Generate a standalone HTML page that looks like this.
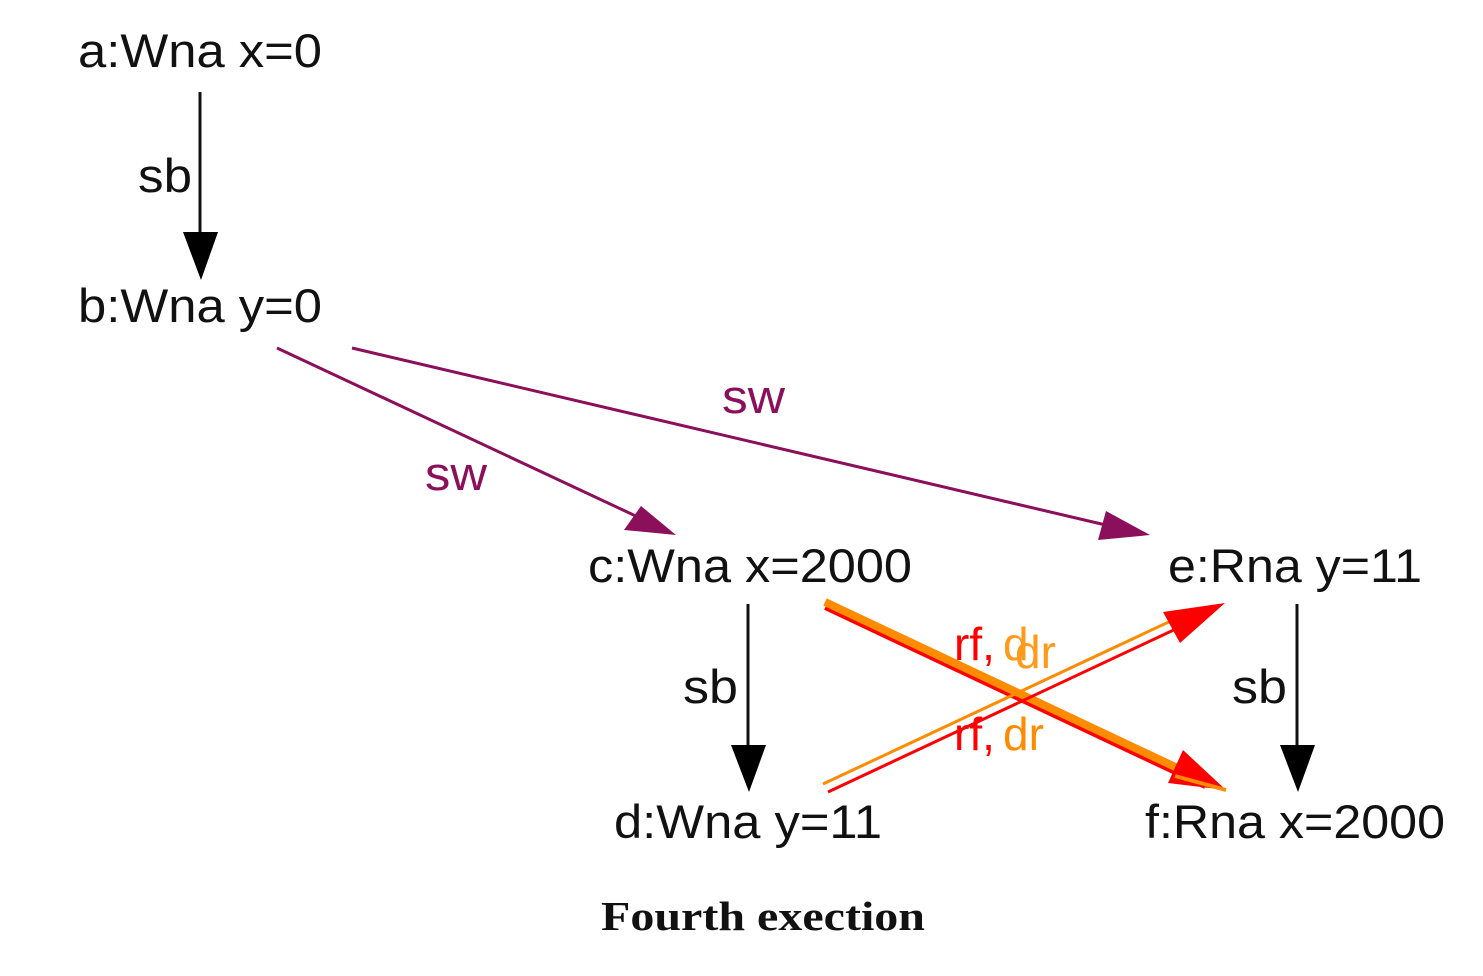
<!DOCTYPE html>
<html><head><meta charset="utf-8"><style>
html,body{margin:0;padding:0;background:#fff;}
svg{display:block;}
.t{font-family:"Liberation Sans",sans-serif;font-size:47px;fill:#111;}
.cap{font-family:"Liberation Serif",serif;font-weight:bold;font-size:41px;fill:#111;}
</style></head><body>
<svg width="1483" height="976" viewBox="0 0 1483 976" xmlns="http://www.w3.org/2000/svg">
<text class="t" x="78" y="67" textLength="244" lengthAdjust="spacingAndGlyphs">a:Wna x=0</text>
<text class="t" x="78" y="322" textLength="244" lengthAdjust="spacingAndGlyphs">b:Wna y=0</text>
<text class="t" x="588" y="582" textLength="324" lengthAdjust="spacingAndGlyphs">c:Wna x=2000</text>
<text class="t" x="1168" y="582" textLength="254" lengthAdjust="spacingAndGlyphs">e:Rna y=11</text>
<text class="t" x="614" y="838" textLength="268" lengthAdjust="spacingAndGlyphs">d:Wna y=11</text>
<text class="t" x="1145" y="838" textLength="300" lengthAdjust="spacingAndGlyphs">f:Rna x=2000</text>

<line x1="200" y1="92" x2="200" y2="240" stroke="#111" stroke-width="3"/>
<polygon points="183,232 218,232 201,280" fill="#000"/>
<text class="t" x="138" y="192" textLength="54" lengthAdjust="spacingAndGlyphs">sb</text>

<line x1="748" y1="604" x2="748" y2="750" stroke="#111" stroke-width="3"/>
<polygon points="731,745 766,745 749,792" fill="#000"/>
<text class="t" x="683" y="703" textLength="55" lengthAdjust="spacingAndGlyphs">sb</text>

<line x1="1297" y1="604" x2="1297" y2="750" stroke="#111" stroke-width="3"/>
<polygon points="1280,745 1315,745 1298,792" fill="#000"/>
<text class="t" x="1232" y="703" textLength="55" lengthAdjust="spacingAndGlyphs">sb</text>

<g stroke="#8b0f5a" stroke-width="3">
<line x1="277" y1="348" x2="640" y2="518"/>
<line x1="352" y1="348" x2="1110" y2="526"/>
</g>
<polygon points="676,535 624,530 641,506" fill="#8b0f5a"/>
<polygon points="1150,535 1098,540 1106,511" fill="#8b0f5a"/>
<text x="425" y="490" font-family="Liberation Sans,sans-serif" font-size="47" fill="#8b0f5a" textLength="62" lengthAdjust="spacingAndGlyphs">sw</text>
<text x="722" y="413" font-family="Liberation Sans,sans-serif" font-size="47" fill="#8b0f5a" textLength="63" lengthAdjust="spacingAndGlyphs">sw</text>

<line x1="825" y1="608" x2="1205" y2="787" stroke="#ff0000" stroke-width="4"/>
<line x1="825" y1="602" x2="1205" y2="781" stroke="#ff8c00" stroke-width="8"/>
<polygon points="1226,790 1168,783 1183,750" fill="#ff0000"/>
<line x1="1175" y1="776" x2="1226" y2="790" stroke="#ff8c00" stroke-width="4"/>

<line x1="823" y1="784" x2="1190" y2="612" stroke="#ff8c00" stroke-width="3"/>
<line x1="828" y1="792" x2="1195" y2="620" stroke="#ff0000" stroke-width="3"/>
<polygon points="1225,603 1180,643 1163,612" fill="#ff0000"/>

<g font-family="Liberation Sans,sans-serif" font-size="46">
<text x="954" y="660" fill="#ff0000">rf,</text>
<text x="1003" y="660" fill="#ff9a1a">d</text>
<text x="1015" y="668" fill="#ff9a1a">dr</text>
<text x="954" y="750" fill="#ff0000">rf,</text>
<text x="1003" y="750" fill="#ff8c00">dr</text>
</g>

<text class="cap" x="601" y="930" textLength="324" lengthAdjust="spacingAndGlyphs">Fourth exection</text>
</svg>
</body></html>
